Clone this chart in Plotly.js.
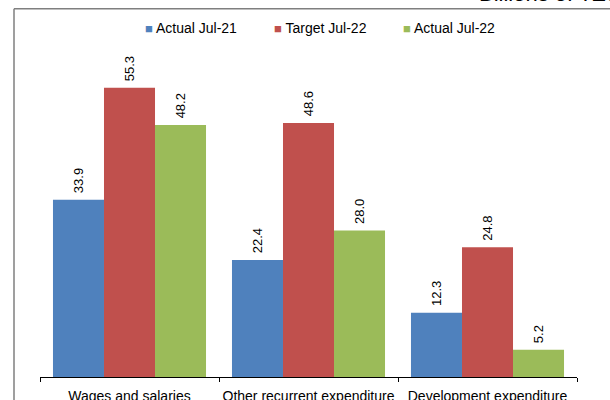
<!DOCTYPE html>
<html>
<head>
<meta charset="utf-8">
<script src="https://cdn.plot.ly/plotly-3.0.1.min.js"></script>
<style>
  html, body { margin: 0; padding: 0; background: #fff; }
  #chart { width: 610px; height: 400px; }
</style>
</head>
<body>
<div id="chart"></div>
<script>
// Government expenditure by category, billions of TZS
var categories = ['Wages and salaries', 'Other recurrent expenditure', 'Development expenditure'];
var seriesNames = ['Actual Jul-21', 'Target Jul-22', 'Actual Jul-22'];
var actualJul21 = [33.9, 22.4, 12.3];
var targetJul22 = [55.3, 48.6, 24.8];
var actualJul22 = [48.2, 28.0, 5.2];
var seriesColors = ['#4F81BD', '#C0504D', '#9BBB59'];
var unitLabel = 'Billions of TZS';

var seriesValues = [actualJul21, targetJul22, actualJul22];

// plot area geometry in pixels, used to place items drawn in paper coordinates
var plotLeft = 40, plotWidth = 537, plotTop = 11.2, plotHeight = 365.8;
function px(xPix) { return (xPix - plotLeft) / plotWidth; }
function py(yPix) { return (plotTop + plotHeight - yPix) / plotHeight; }

var traces = seriesValues.map(function (vals, i) {
  return {
    type: 'bar',
    name: seriesNames[i],
    x: categories,
    y: vals,
    marker: { color: seriesColors[i] },
    // a leading no-break space keeps the rotated value clear of the bar top
    text: vals.map(function (v) { return '\u00a0' + v.toFixed(1); }),
    textposition: 'outside',
    textangle: -90,
    constraintext: 'none',
    textfont: { family: 'Liberation Sans, Arial, sans-serif', size: 13, color: '#000' },
    cliponaxis: false,
    showlegend: false,
    hoverinfo: 'x+y+name'
  };
});

// compact key row: small colour square followed by the series name
var keyLeft = [143, 272, 401];
var keyAnnotations = seriesNames.map(function (name, i) {
  return {
    text: '<span style="color:' + seriesColors[i] + ';font-size:13px">\u25A0</span> ' + name,
    xref: 'paper', yref: 'paper',
    x: px(keyLeft[i]), xanchor: 'left',
    y: py(28), yanchor: 'middle',
    showarrow: false,
    font: { size: 14, color: '#000' }
  };
});

var layout = {
  width: 610,
  height: 400,
  margin: { l: plotLeft, r: 610 - plotLeft - plotWidth, t: plotTop, b: 400 - plotTop - plotHeight, pad: 0 },
  paper_bgcolor: '#fff',
  plot_bgcolor: '#fff',
  barmode: 'group',
  bargap: 0.145,
  bargroupgap: 0,
  font: { family: 'Liberation Sans, Arial, sans-serif', size: 13, color: '#000' },
  showlegend: false,
  xaxis: {
    showline: true,
    linecolor: '#000',
    linewidth: 1,
    ticks: 'outside',
    tickson: 'boundaries',
    ticklen: 4,
    tickcolor: '#000',
    tickangle: 0,
    ticklabelstandoff: 6,
    showgrid: false,
    zeroline: false,
    tickfont: { size: 14, color: '#000' }
  },
  yaxis: {
    range: [0, 70],
    visible: false,
    showgrid: false,
    zeroline: false
  },
  annotations: [{
    text: unitLabel,
    xref: 'paper', yref: 'paper',
    x: px(477), xanchor: 'left',
    y: py(8), yanchor: 'bottom',
    showarrow: false,
    font: { size: 22, color: '#000' }
  }].concat(keyAnnotations),
  shapes: [
    { type: 'line', xref: 'paper', yref: 'paper',
      x0: px(14), x1: px(612), y0: py(9), y1: py(9),
      line: { color: '#7f7f7f', width: 1.5 } },
    { type: 'line', xref: 'paper', yref: 'paper',
      x0: px(14), x1: px(14), y0: py(9), y1: py(402),
      line: { color: '#7f7f7f', width: 1.5 } }
  ]
};

Plotly.newPlot('chart', traces, layout, { displayModeBar: false, staticPlot: true });
</script>
</body>
</html>
